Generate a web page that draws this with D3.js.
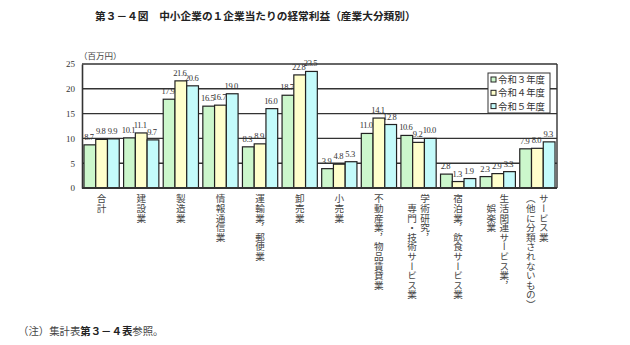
<!DOCTYPE html>
<html><head><meta charset="utf-8">
<script src="https://cdn.jsdelivr.net/npm/d3@7"></script>
<style>
body{margin:0;background:#fff;}
svg{display:block;}
.jp{font-family:"Noto Sans CJK JP","Noto Sans",sans-serif;}
.num{font-family:"Liberation Serif","DejaVu Serif",serif;}
</style></head>
<body><svg id="c" width="630" height="345"></svg>
<script>
const categories = [
  ["合計"],
  ["建設業"],
  ["製造業"],
  ["情報通信業"],
  ["運輸業，郵便業"],
  ["卸売業"],
  ["小売業"],
  ["不動産業，物品賃貸業"],
  ["学術研究，","　専門・技術サービス業"],
  ["宿泊業，飲食サービス業"],
  ["生活関連サービス業，","　娯楽業"],
  ["サービス業","（他に分類されないもの）"]
];
const seriesNames = ["令和３年度","令和４年度","令和５年度"];
const r3 = [8.7,10.1,17.9,16.5,8.3,18.7,3.9,11.0,10.6,2.8,2.3,7.9];
const r4 = [9.8,11.1,21.6,16.7,8.9,22.8,4.8,14.1,9.2,1.3,2.9,8.0];
const r5 = [9.9,9.7,20.6,19.0,16.0,23.5,5.3,12.8,10.0,1.9,3.3,9.3];
const yTicks = [0,5,10,15,20,25];
const colors = ["#ccf7cc","#ffffcc","#c4fbfb"];

const svg = d3.select("#c");
const L=82,R=557,T=64,B=188;
const keys = categories.map((c,i)=>i);
const x = d3.scaleBand().domain(keys).range([L,R]).paddingInner(0.11).paddingOuter(0.05);
const xi = d3.scaleBand().domain([0,1,2]).range([0,x.bandwidth()]);
const y = d3.scaleLinear().domain([0,25]).range([B,T]);
const series=[r3,r4,r5];

// title
svg.append("text").attr("class","jp").attr("x",95).attr("y",20)
  .attr("font-size",10.7).attr("font-weight",700).attr("fill","#222")
  .text("第３－４図　中小企業の１企業当たりの経常利益（産業大分類別）");

// gridlines
svg.append("g").selectAll("line").data(yTicks.filter(d=>d>0)).join("line")
  .attr("x1",L).attr("x2",R).attr("y1",d=>y(d)).attr("y2",d=>y(d))
  .attr("stroke","#333").attr("stroke-width",1.4);
// right frame
svg.append("line").attr("x1",R).attr("x2",R).attr("y1",T).attr("y2",B).attr("stroke","#333").attr("stroke-width",1.4);

// y axis
const ya = svg.append("g").attr("transform",`translate(${L},0)`)
  .call(d3.axisLeft(y).tickValues(yTicks).tickSize(0).tickPadding(7));
ya.select(".domain").attr("stroke","#333").attr("stroke-width",1.6);
ya.selectAll("text").attr("class","num").attr("font-size",9).attr("fill","#333");

svg.append("text").attr("class","jp").attr("x",79).attr("y",59)
  .attr("font-size",8.5).attr("fill","#444").text("（百万円）");

// bars
const g = svg.append("g");
series.forEach((s,si)=>{
  g.selectAll(".b"+si).data(s).join("rect")
    .attr("x",(d,i)=>x(i)+xi(si)).attr("width",xi.bandwidth())
    .attr("y",d=>y(d)).attr("height",d=>B-y(d))
    .attr("fill",colors[si]).attr("stroke","#222").attr("stroke-width",1.2);
});
// baseline
svg.append("line").attr("x1",L).attr("x2",R).attr("y1",B).attr("y2",B).attr("stroke","#333").attr("stroke-width",2);

// value labels
series.forEach((s,si)=>{
  svg.append("g").selectAll("text").data(s).join("text").attr("class","num")
    .attr("x",(d,i)=>x(i)+xi(si)+xi.bandwidth()/2-1)
    .attr("y",d=>y(d)-5)
    .attr("text-anchor","middle").attr("font-size",8.5).attr("letter-spacing",-0.4)
    .attr("fill","#333").text(d=>d.toFixed(1));
});

// x labels vertical
const lab = svg.append("g");
categories.forEach((lines,i)=>{
  const cx = x(i)+x.bandwidth()/2;
  const n=lines.length;
  lines.forEach((t,j)=>{
    const off = (n-1)*6.5 - j*13;
    lab.append("text").attr("class","jp")
      .attr("x",cx+off).attr("y",194)
      .style("writing-mode","vertical-rl")
      .attr("font-size",9.6).attr("fill","#444").text(t);
  });
});

// legend
const lg = svg.append("g");
lg.append("rect").attr("x",488).attr("y",73).attr("width",62).attr("height",40)
  .attr("fill","#fff").attr("stroke","#333").attr("stroke-width",1);
seriesNames.forEach((nm,i)=>{
  const yy=79.5+i*13.3;
  lg.append("rect").attr("x",491).attr("y",yy-2.5).attr("width",5).attr("height",5)
    .attr("fill",colors[i]).attr("stroke","#222").attr("stroke-width",1);
  lg.append("text").attr("class","jp").attr("x",498).attr("y",yy+3.5)
    .attr("font-size",9.4).attr("fill","#333").text(nm);
});

// footnote
const fn = svg.append("text").attr("class","jp").attr("x",18).attr("y",335)
  .attr("font-size",10.4).attr("fill","#444");
fn.append("tspan").text("（注）集計表");
fn.append("tspan").attr("font-weight",700).attr("fill","#222").text("第３－４表");
fn.append("tspan").text("参照。");
</script></body></html>
